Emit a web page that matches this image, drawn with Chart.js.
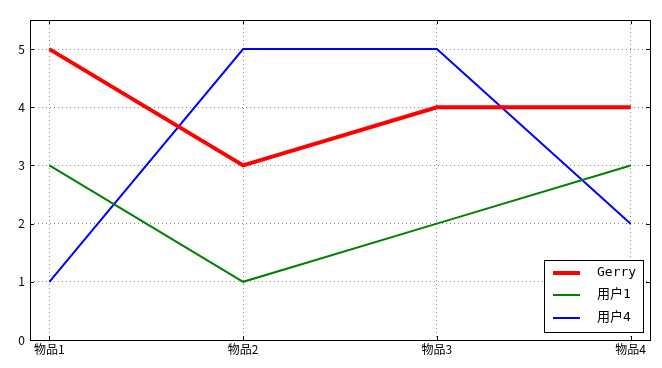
<!DOCTYPE html>
<html><head><meta charset="utf-8">
<script src="https://cdn.jsdelivr.net/npm/chart.js@4/dist/chart.umd.min.js"></script>
<style>html,body{margin:0;padding:0;background:#fff}#w{width:662px;height:368px}</style>
</head><body><div id="w"><canvas id="c"></canvas></div>
<script>
const categories = ["物品1", "物品2", "物品3", "物品4"];
const gerry = [5, 3, 4, 4];
const user1 = [3, 1, 2, 3];
const user4 = [1, 5, 5, 2];
const yTicks = [0, 1, 2, 3, 4, 5];
const FONT = "'Noto Sans CJK SC', 'DejaVu Sans', sans-serif";
const LFONT = "'DejaVu Sans Mono', 'Noto Sans CJK SC', monospace";

const toPts = arr => arr.map((v, i) => ({x: i, y: v}));

const legendPlugin = {
  id: 'boxLegend',
  afterDraw(chart) {
    const ctx = chart.ctx;
    const x0 = 544, y0 = 260, w = 99, h = 72;
    ctx.save();
    ctx.fillStyle = '#fff';
    ctx.fillRect(x0, y0, w, h);
    ctx.strokeStyle = '#000';
    ctx.lineWidth = 1;
    ctx.strokeRect(x0 + 0.5, y0 + 0.5, w, h);
    const rows = [273, 295, 318];
    chart.data.datasets.forEach((ds, i) => {
      ctx.strokeStyle = ds.borderColor;
      ctx.lineWidth = ds.borderWidth;
      ctx.beginPath();
      ctx.moveTo(553, rows[i]);
      ctx.lineTo(580, rows[i]);
      ctx.stroke();
      ctx.fillStyle = '#000';
      ctx.font = "13px " + LFONT;
      ctx.textBaseline = 'middle';
      ctx.textAlign = 'left';
      ctx.fillText(ds.label, 597, rows[i]);
    });
    ctx.restore();
  }
};

const innerTicks = {
  id: 'innerTicks',
  afterDraw(chart) {
    const ctx = chart.ctx, a = chart.chartArea;
    const xs = chart.scales.x, ys = chart.scales.y;
    ctx.save();
    ctx.strokeStyle = '#000';
    ctx.lineWidth = 1;
    ctx.beginPath();
    categories.forEach((c, i) => {
      const px = Math.round(xs.getPixelForValue(i)) + 0.5;
      ctx.moveTo(px, a.bottom); ctx.lineTo(px, a.bottom - 4);
      ctx.moveTo(px, a.top); ctx.lineTo(px, a.top + 4);
    });
    yTicks.forEach(v => {
      const py = Math.round(ys.getPixelForValue(v)) + 0.5;
      ctx.moveTo(a.left, py); ctx.lineTo(a.left + 4, py);
      ctx.moveTo(a.right, py); ctx.lineTo(a.right - 4, py);
    });
    ctx.stroke();
    ctx.lineWidth = 1;
    ctx.strokeRect(Math.round(a.left) + 0.5, Math.round(a.top) + 0.5, Math.round(a.right - a.left), Math.round(a.bottom - a.top));
    ctx.restore();
  }
};

new Chart(document.getElementById('c'), {
  type: 'line',
  data: {
    datasets: [
      {label: 'Gerry', data: toPts(gerry), borderColor: '#ff0000', borderWidth: 4, pointRadius: 0, tension: 0, fill: false},
      {label: '用户1', data: toPts(user1), borderColor: '#008000', borderWidth: 2, pointRadius: 0, tension: 0, fill: false},
      {label: '用户4', data: toPts(user4), borderColor: '#0000ff', borderWidth: 2, pointRadius: 0, tension: 0, fill: false}
    ]
  },
  plugins: [innerTicks, legendPlugin],
  options: {
    responsive: true,
    maintainAspectRatio: false,
    animation: false,
    layout: {padding: {top: 20, right: 12, left: 0, bottom: 0}},
    plugins: {legend: {display: false}, tooltip: {enabled: false}},
    scales: {
      x: {
        type: 'linear', min: -0.1, max: 3.1,
        afterBuildTicks: s => { s.ticks = categories.map((c, i) => ({value: i})); },
        afterFit: s => { s.height = 28; },
        ticks: {
          callback: (v) => categories[v] !== undefined ? categories[v] : '',
          color: '#000', font: {family: FONT, size: 12}, maxRotation: 0, autoSkip: false, padding: 2
        },
        grid: {color: '#888', lineWidth: 1, drawTicks: false, tickLength: 0},
        border: {display: false, dash: [1, 3]}
      },
      y: {
        min: 0, max: 5.5,
        afterBuildTicks: s => { s.ticks = yTicks.map(v => ({value: v})); },
        afterFit: s => { s.width = 30; },
        ticks: {color: '#000', font: {family: FONT, size: 12}, padding: 5},
        grid: {color: '#888', lineWidth: 1, drawTicks: false, tickLength: 0},
        border: {display: false, dash: [1, 3]}
      }
    }
  }
});
</script>
</body></html>
